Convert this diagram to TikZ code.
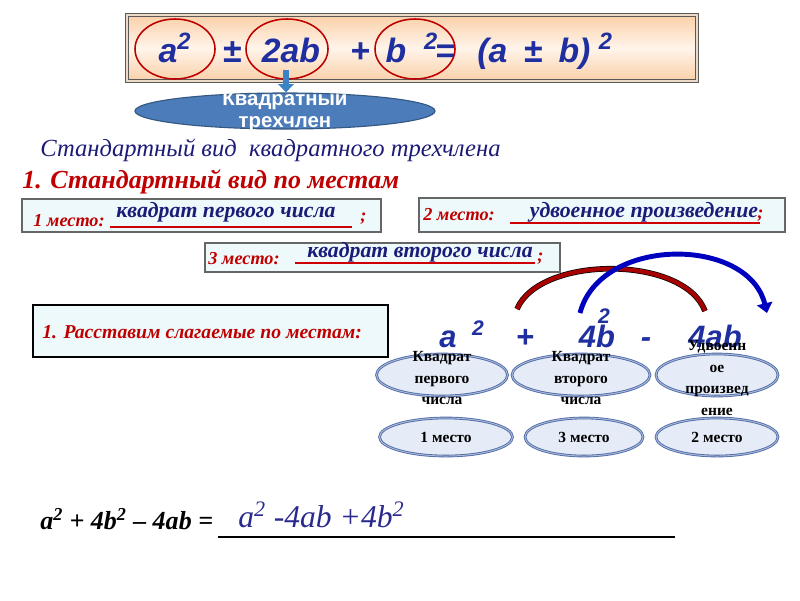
\documentclass[tikz,border=0pt]{standalone}
\usepackage{fontspec}
\setmainfont{Liberation Serif}
\newfontfamily\arialf{Liberation Sans}
\usetikzlibrary{arrows.meta,shapes.geometric,positioning}

\definecolor{frmblue}{HTML}{1F2FA0}
\definecolor{navy}{HTML}{1C1C78}
\definecolor{darkred}{HTML}{C00000}
\definecolor{boxfill}{HTML}{EEF9FB}
\definecolor{ovalfill}{HTML}{E6ECF7}
\definecolor{ovaledge}{HTML}{4E6AA6}
\definecolor{trinfill}{HTML}{4C7DBA}
\definecolor{ansblue}{HTML}{2A2A8E}
\definecolor{peach}{HTML}{FAD0A8}
\definecolor{peachlight}{HTML}{FFF4EA}
\definecolor{arrowblue}{HTML}{3C82C6}

\begin{document}
\begin{tikzpicture}[x=0.025cm, y=-0.025cm,
  frm/.style={font=\arialf\bfseries\itshape\fontsize{24}{28}\selectfont, text=frmblue, inner sep=0pt, anchor=base},
  ring/.style={draw=red!75!black, line width=1.1pt, ellipse, minimum width=#1, minimum height=1.5cm, inner sep=0pt},
  downarrow/.style={-{Triangle[width=11pt,length=6pt]}, line width=4pt, draw=arrowblue},
  trinoval/.style={ellipse, fill=trinfill, draw=trinfill!70!black, line width=0.8pt, minimum width=7.5cm, minimum height=0.9cm, inner sep=0pt},
  trintext/.style={font=\arialf\bfseries\fontsize{14.5}{16}\selectfont, text=white, align=center},
  slot/.style={draw=black!60, fill=boxfill, line width=1.1pt, inner sep=0pt},
  mesto/.style={font=\bfseries\itshape\fontsize{13}{15}\selectfont, text=darkred, anchor=west, inner sep=0pt},
  answ/.style={font=\bfseries\itshape\fontsize{15.5}{17}\selectfont, text=navy, inner sep=0pt},
  uline/.style={draw=red!80!black, line width=0.8pt},
  expr/.style={font=\arialf\bfseries\itshape\fontsize{22}{26}\selectfont, text=frmblue, inner sep=0pt, anchor=base},
  exprsup/.style={expr, font=\arialf\bfseries\itshape\fontsize{15}{18}\selectfont},
  redarc/.style={draw=red!65!black, line width=3pt, preaction={draw=black, line width=4pt}},
  bluearc/.style={draw=blue!75!black, line width=3.5pt, -{Triangle[width=11pt,length=7pt]}},
  termoval/.style={ellipse, fill=ovalfill, draw=ovaledge, line width=0.6pt, double=ovalfill!60!ovaledge, double distance=0.7pt, minimum height=1.05cm, inner sep=0pt},
  placeoval/.style={termoval, minimum height=0.95cm},
  ovtext/.style={font=\bfseries\fontsize{11}{15.5}\selectfont, align=center, inner sep=0pt}
]
\useasboundingbox (0,0) rectangle (800,600);

% formula frame
\shade[top color=peach, bottom color=peach, middle color=peachlight] (127,15) rectangle (697,81);
\draw[draw=black!65, double=brown!30, line width=0.7pt, double distance=1.2pt] (127,15) rectangle (697,81);
\node[frm] (ta2) at (175,62) {a\textsuperscript{2}};
\node[frm] (pm1) at (232,62) {±};
\node[frm] (t2ab) at (291,62) {2ab};
\node[frm] (pl1) at (360,62) {+};
\node[frm] (tb) at (396,62) {b};
\node[frm] (tb2) at (431,62) {\textsuperscript{2}};
\node[frm] (eq) at (445,62) {=};
\node[frm, anchor=base west] (rhs) at (477,62) {(a\hspace{5pt} ±\hspace{5pt} b)\hspace{6pt}\textsuperscript{2}};
\node[ring=2cm] (e1) at (175,49) {};
\node[ring=2.05cm] (e2) at (287,49) {};
\node[ring=2cm] (e3) at (415,49) {};

% trinomial
\node[trinoval] (trin) at (285,111) {};
\node[trintext] (trinlbl) at (trin) {Квадратный\\трехчлен};
\coordinate (arrtop) at (286,70);
\draw[downarrow] (arrtop) -- (arrtop |- trin.north);

\node[font=\itshape\fontsize{17.5}{20}\selectfont, text=navy, anchor=base west, inner sep=0pt] (std) at (40,156) {Стандартный вид \ квадратного трехчлена};
\node[font=\bfseries\itshape\fontsize{18.5}{21}\selectfont, text=darkred, anchor=base west, inner sep=0pt] (head) at (22,188) {1. Стандартный вид по местам};

% places
\node[slot, minimum width=8.975cm, minimum height=0.825cm] (box1) at (201.5,215.5) {};
\node[mesto] (m1) at (33,221) {1 место:};
\draw[uline] (110,227) -- (352,227);
\node[answ] (a1) at (226,212) {квадрат первого числа};
\node[mesto] (s1) at (360,219) {;};

\node[slot, minimum width=9.15cm, minimum height=0.85cm] (box2) at (602,215) {};
\node[mesto] (m2) at (423,215) {2 место:};
\draw[uline] (510,223) -- (760,223);
\node[answ] (a2) at (644,212) {удвоенное произведение};
\node[mesto] (s2) at (757,216) {;};

\node[slot, minimum width=8.875cm, minimum height=0.725cm] (box3) at (382.5,257.5) {};
\node[mesto] (m3) at (208,259) {3 место:};
\draw[uline] (295,263) -- (535,263);
\node[answ] (a3) at (420,252) {квадрат второго числа};
\node[mesto] (s3) at (537,259) {;};

\node[slot, draw=black, line width=1.6pt, minimum width=8.875cm, minimum height=1.3cm] (box4) at (210.5,331) {};
\node[mesto, font=\bfseries\itshape\fontsize{14}{16}\selectfont] (task) at (42,332) {1. Расставим слагаемые по местам:};

% expression
\node[expr] (xa) at (448,347) {a};
\node[exprsup] (xa2) at (478,335) {2};
\node[expr] (xpl) at (525,347) {+};
\node[expr] (x4b) at (597,347) {4b};
\node[exprsup] (xb2) at (604,323) {2};
\node[expr] (xmi) at (646,347) {-};
\node[expr] (x4ab) at (715,347) {4ab};

\coordinate (rs) at (517,309);
\coordinate (re) at (705,311);
\draw[redarc] (rs) .. controls (540,255) and (684,255) .. (re);
\coordinate (bs) at (580,313);
\coordinate (be) at (767,313);
\draw[bluearc] (bs) .. controls (600,236) and (748,236) .. (be);

% ovals
\node[termoval, minimum width=3.275cm] (o1) at (442,375) {};
\node[termoval, minimum width=3.45cm] (o2) at (581,375) {};
\node[termoval, minimum width=3.05cm] (o3) at (717,375) {};
\node[ovtext] (o1t) at (442,378) {Квадрат\\первого\\числа};
\node[ovtext] (o2t) at (581,378) {Квадрат\\второго\\числа};
\node[ovtext] (o3t) at (717,378) {Удвоенн\\ое\\произвед\\ение};
\node[placeoval, minimum width=3.325cm] (p1) at (446,437) {};
\node[placeoval, minimum width=2.95cm] (p2) at (584,437) {};
\node[placeoval, minimum width=3.05cm] (p3) at (717,437) {};
\node[ovtext] (p1t) at (p1) {1 место};
\node[ovtext] (p2t) at (p2) {3 место};
\node[ovtext] (p3t) at (p3) {2 место};

% result
\node[font=\bfseries\itshape\fontsize{18.5}{21}\selectfont, anchor=base west, inner sep=0pt] (lhs) at (40,529) {a\textsuperscript{2} + 4b\textsuperscript{2} – 4ab =};
\draw[line width=0.8pt] (218,537) -- (675,537);
\node[font=\itshape\fontsize{22.5}{25}\selectfont, text=ansblue, anchor=base west, inner sep=0pt] (res) at (238,527) {a\textsuperscript{2} -4ab +4b\textsuperscript{2}};
\end{tikzpicture}
\end{document}
